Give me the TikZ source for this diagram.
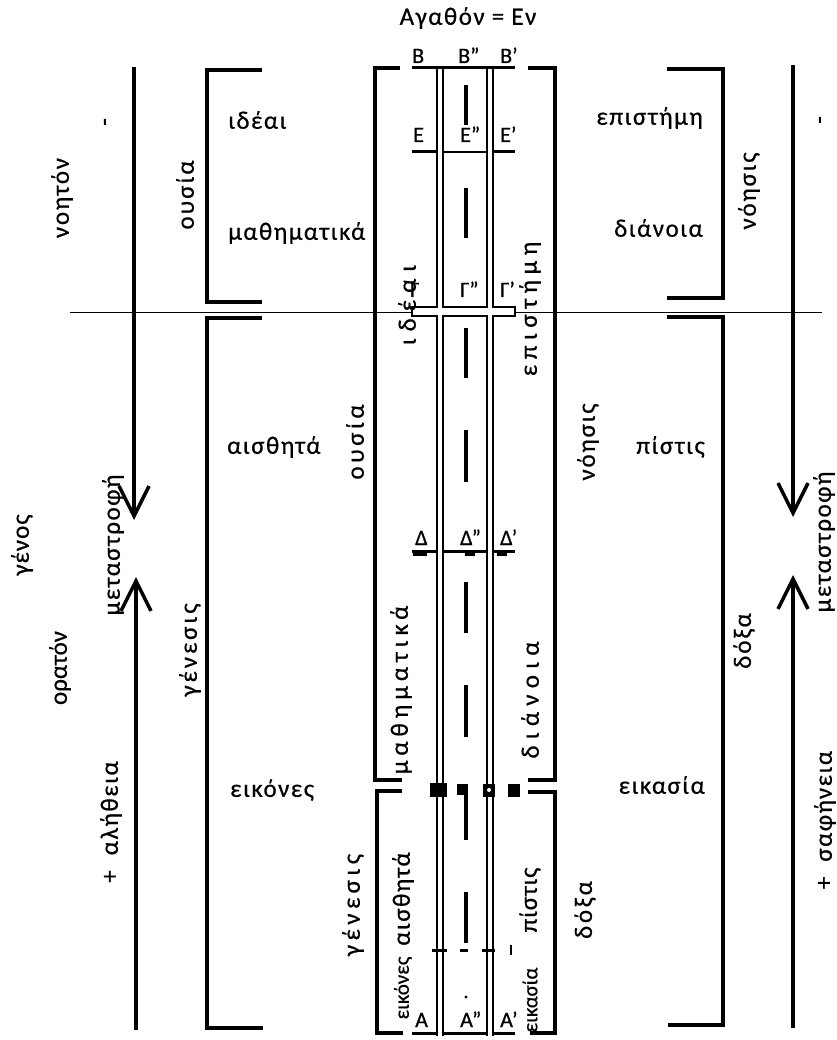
\documentclass[tikz,border=0pt]{standalone}
\usepackage{fontspec}
\setmainfont{Carlito}[FakeBold=0.6]
\usetikzlibrary{arrows.meta}
\begin{document}
\begin{tikzpicture}[x=1pt,y=-1pt,
  word/.style={inner sep=0pt, font=\fontsize{25}{28}\selectfont\addfontfeatures{LetterSpace=6}},
  vw/.style={inner sep=0pt, rotate=90, font=\fontsize{25}{28}\selectfont\addfontfeatures{LetterSpace=#1}},
  vw/.default=6,
  vws/.style 2 args={inner sep=0pt, rotate=90, font=\fontsize{#1}{#1}\selectfont\addfontfeatures{LetterSpace=#2}},
  letter/.style={font=\fontsize{22}{24}\selectfont, inner sep=0pt, anchor=base west},
  brk/.style={line width=3.2pt},
  shaft/.style={line width=3.5pt, -{Straight Barb[length=30pt,width=30pt,line width=3.5pt]}},
  wall/.style={line width=1.3pt},
  mybar/.style={line width=3pt},
  cdash/.style={line width=4pt},
]
\useasboundingbox (0,0) rectangle (836,1040);

% divider
\coordinate (dl) at (70,312); \coordinate (dr) at (822,312);
\draw[line width=1pt] (dl) -- (dr);

% arrows
\coordinate (la0) at (134,67);  \coordinate (la1) at (134,520);
\coordinate (lb0) at (136,1030); \coordinate (lb1) at (136,577);
\coordinate (ra0) at (793,65);  \coordinate (ra1) at (793,517);
\coordinate (rb0) at (793,1028); \coordinate (rb1) at (793,575);
\draw[shaft] (la0) -- (la1);
\draw[shaft] (lb0) -- (lb1);
\draw[shaft] (ra0) -- (ra1);
\draw[shaft] (rb0) -- (rb1);

% outer brackets
\draw[brk] (262,70) -- (207,70) -- (207,302) -- (262,302);
\draw[brk] (262,318) -- (207,318) -- (207,1028) -- (263,1028);
\draw[brk] (667,69) -- (723,69) -- (723,298) -- (667,298);
\draw[brk] (667,317) -- (723,317) -- (723,1025) -- (668,1025);

% central brackets
\draw[brk] (400,68) -- (375,68) -- (375,780) -- (402,780);
\draw[brk] (402,791) -- (377,791) -- (377,1033) -- (403,1033);
\draw[brk] (528,68) -- (555,68) -- (555,780) -- (528,780);
\draw[brk] (528,792) -- (555,792) -- (555,1033) -- (530,1033);

% walls
\foreach \x in {437,443,487,493} \draw[wall] (\x,68) -- (\x,1036);

% bars
\draw[mybar] (412,68) -- (515,68);
\draw[mybar] (412,152) -- (437,152);
\draw[mybar] (493,152) -- (515,152);
\draw[wall] (443,152) -- (487,152);
\draw[wall, fill=white] (412,307) rectangle (515,316);
\fill[white] (437.7,305) rectangle (442.3,318);
\fill[white] (487.7,305) rectangle (492.3,318);
\draw[mybar] (412,551) -- (437,551);
\draw[mybar] (443,551) -- (487,551);
\draw[mybar] (493,551) -- (515,551);
\fill (413,552) rectangle (427,556);
\fill (465,552) rectangle (475,556);
\fill (497,552) rectangle (507,556);
\fill (430,783) rectangle (447,797);
\fill (457,784) rectangle (468,795);
\fill (483,784) rectangle (495,797);
\fill[white] (489,790) circle (2);
\fill (508,784) rectangle (520,797);
\draw[mybar] (432,950) -- (447,950);
\draw[mybar] (460,950) -- (468,950);
\draw[mybar] (482,950) -- (495,950);
\draw[line width=2.5pt] (511,945) -- (511,955);
\draw[mybar] (412,1033) -- (437,1033);
\draw[mybar] (443,1033) -- (487,1033);
\draw[mybar] (493,1033) -- (515,1033);

% center dashes
\foreach \a/\b in {85/125,188/238,328/378,430/482,582/633,685/737,795/840,892/943}
  \draw[cdash] (466,\a) -- (466,\b);
\fill (466,997) circle (1.6);

% letter labels
\node[letter] (B)  at (412,63) {Β};
\node[letter] (B2) at (458,63) {Β”};
\node[letter] (B1) at (500,63) {Β’};
\node[letter] (E)  at (413,142) {Ε};
\node[letter] (E2) at (460,142) {Ε”};
\node[letter] (E1) at (500,142) {Ε’};
\node[letter] (G)  at (410,297) {Γ};
\node[letter] (G2) at (460,297) {Γ”};
\node[letter] (G1) at (500,297) {Γ’};
\node[letter] (D)  at (415,545) {Δ};
\node[letter] (D2) at (460,545) {Δ”};
\node[letter] (D1) at (500,545) {Δ’};
\node[letter] (A)  at (415,1027) {Α};
\node[letter] (A2) at (460,1027) {Α”};
\node[letter] (A1) at (500,1027) {Α’};

% left words
\node[vw=7] (noeton) at (62,198) {νοητόν};
\node[vw] (minusL) at (108,122) {-};
\node[vw=8] (ousiaL) at (185,195) {ουσία};
\node[word, anchor=west] (ideaiL) at (228,120) {ιδέαι};
\node[word, anchor=west] (mathL) at (228,233) {μαθηματικά};
\node[word, anchor=west] (aisthL) at (227,447) {αισθητά};
\node[word, anchor=west] (eikonL) at (230,790) {εικόνες};
\node[vw=4] (genos) at (22,545) {γένος};
\node[vw=0] (orat) at (60,668) {ορατόν};
\node[vw] (metaL) at (113,545) {μεταστροφή};
\node[vw] (alith) at (111,822) {+\hspace{0.6em}αλήθεια};
\node[vw=12] (genesL) at (190,650) {γένεσις};

% right words
\node[word, anchor=east] (epistR) at (703,118) {επιστήμη};
\node[word, anchor=east] (dianR) at (703,228) {διάνοια};
\node[word, anchor=east] (pistR) at (705,447) {πίστις};
\node[word, anchor=east] (eikasR) at (705,785) {εικασία};
\node[vw=7] (noisR) at (749,191) {νόησις};
\node[vw=8] (doxaR) at (744,641) {δόξα};
\node[vw] (minusR) at (823,120) {-};
\node[vw] (metaR) at (824,542) {μεταστροφή};
\node[vw] (safin) at (825,820) {+\hspace{0.6em}σαφήνεια};

% central words
\node[word] (agathon) at (468,18) {Αγαθόν = Εν};
\node[vw=28] (ideaiC) at (407,305) {ιδέαι};
\node[vw=14] (ousiaC) at (355,442) {ουσία};
\node[vw=20] (mathC) at (401,690) {μαθηματικά};
\node[vw=18] (genesC) at (353,905) {γένεσις};
\node[vw=6] (aisthC) at (403,899) {αισθητά};
\node[vws={21}{0}] (eikonC) at (403,988) {εικόνες};
\node[vw=22] (epistC) at (530,309) {επιστήμη};
\node[vw=7] (noisC) at (588,442) {νόησις};
\node[vw=25] (dianC) at (530,700) {διάνοια};
\node[vw=3] (pistC) at (530,900) {πίστις};
\node[vws={21}{0}] (eikasC) at (530,1000) {εικασία};
\node[vw=11] (doxaC) at (585,910) {δόξα};
\end{tikzpicture}
\end{document}
